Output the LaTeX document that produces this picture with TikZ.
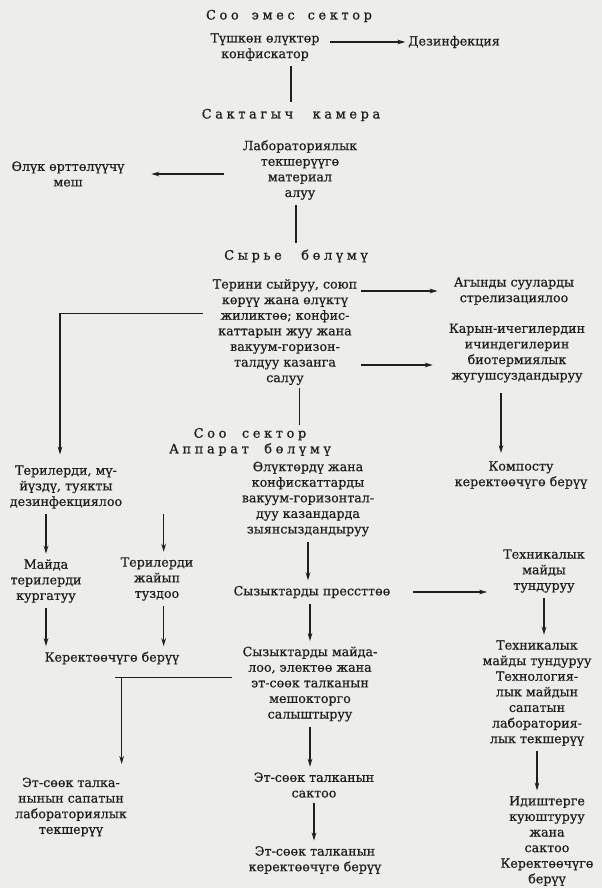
\documentclass[tikz,border=0pt]{standalone}
\usepackage{fontspec}
\setmainfont{DejaVu Serif}[FakeBold=0.6]
\newfontfamily\spacedfont{DejaVu Serif}[LetterSpace=28, FakeBold=0.8]
\usetikzlibrary{arrows.meta}
\definecolor{paper}{rgb}{0.93,0.93,0.92}
\definecolor{ink}{rgb}{0.12,0.12,0.12}

\begin{document}
\begin{tikzpicture}[x=0.75pt, y=-0.75pt, ink,
  txt/.style={align=center, inner sep=2pt, font=\fontsize{9.5}{11.7}\selectfont},
  hd/.style={align=center, inner sep=2pt, font=\spacedfont\fontsize{9.7}{11.7}\selectfont},
  arr/.style={-{Stealth[length=6pt,width=3.5pt]}, line width=1.1pt},
  ln/.style={line width=1.1pt}]
\useasboundingbox (0,0) rectangle (602,888);
\fill[paper] (0,0) rectangle (602,888);

% non-clean sector
\node[hd] (sect1) at (289,16) {Соо\hspace{1em}эмес\hspace{1em}сектор};
\node[txt] (conf) at (265,47) {Түшкөн өлүктөр\\конфискатор};
\node[txt] (dez) at (454,42) {Дезинфекция};
\node[hd] (kam) at (291,115) {Сактагыч\hspace{1.5em}камера};
\node[txt] (lab) at (300,170) {Лабораториялык\\текшерүүгө\\материал\\алуу};
\node[txt] (mesh) at (68,174) {Өлүк өрттөлүүчү\\меш};
\node[hd] (syr) at (296,256) {Сырье\hspace{1.5em}бөлүмү};
\node[txt] (skin) at (285,332) {Терини сыйруу, союп\\көрүү жана өлүктү\\жиликтөө; конфис-\\каттарын жуу жана\\вакуум-горизон-\\талдуу казанга\\салуу};
\node[txt] (agyn) at (514,291) {Агынды сууларды\\стрелизациялоо};
\node[txt] (karyn) at (517,353) {Карын-ичегилердин\\ичиндегилерин\\биотермиялык\\жугушсуздандыруу};
\node[txt] (kompost) at (521,475) {Компосту\\керектөөчүгө берүү};

% clean sector
\node[hd] (app) at (250,442) {Соо\hspace{1.2em}сектор\\Аппарат\hspace{1.2em}бөлүмү};
\node[txt] (zyan) at (308,499) {Өлүктөрдү жана\\конфискаттарды\\вакуум-горизонтал-\\дуу казандарда\\зыянсыздандыруу};
\node[txt] (teri) at (66,487) {Терилерди, мү-\\йүздү, туякты\\дезинфекциялоо};
\node[txt] (mayda) at (46,581) {Майда\\терилерди\\кургатуу};
\node[txt] (tuz) at (157,579) {Терилерди\\жайып\\туздоо};
\node[txt] (ker1) at (112,658) {Керектөөчүгө берүү};
\node[txt] (press) at (312,592) {Сызыктарды прессттөө};
\node[txt] (tehn1) at (544,571) {Техникалык\\майды\\тундуруу};
\node[txt] (syzmay) at (310,684) {Сызыктарды майда-\\лоо, электөө жана\\эт-сөөк талканын\\мешокторго\\салыштыруу};
\node[txt] (talk) at (71,807) {Эт-сөөк талка-\\нынын сапатын\\лабораториялык\\текшерүү};
\node[txt] (sakt) at (314,785) {Эт-сөөк талканын\\сактоо};
\node[txt] (ker2) at (315,860) {Эт-сөөк талканын\\керектөөчүгө берүү};
\node[txt] (tehn2) at (537,693) {Техникалык\\майды тундуруу\\Технология-\\лык майдын\\сапатын\\лаборатория-\\лык текшерүү};
\node[txt] (idish) at (547,841) {Идиштерге\\куюштуруу\\жана\\сактоо\\Керектөөчүгө\\берүү};

\coordinate (k2) at ([yshift=-9pt]karyn.west);
\coordinate (sL) at ([yshift=14pt]skin.west);
\coordinate (sM) at ([yshift=5pt]syzmay.west);
\coordinate (tL) at ([xshift=38pt]talk.north);

% connectors
\draw[arr, shorten <=6pt] (conf.east |- dez.west) -- (dez.west);
\draw[ln, shorten <=2pt, shorten >=3pt] (kam.north |- conf.south) -- (kam.north);
\draw[arr, shorten <=12pt, shorten >=18pt] (lab.west |- mesh.east) -- (mesh.east);
\draw[ln, shorten <=2pt, shorten >=3pt] (syr.north |- lab.south) -- (syr.north);
\draw[arr, shorten <=1pt, shorten >=10pt] (skin.east |- agyn.west) -- (agyn.west);
\draw[arr, shorten <=1pt, shorten >=10pt] (skin.east |- k2) -- (k2);
\draw[ln, shorten <=5pt] (sL) -- (sL -| teri.north) -- ++(-4.5pt,0);
\draw[arr, shorten >=6pt] ([xshift=-4.5pt]sL -| teri.north) -- ([xshift=-4.5pt]teri.north);
\draw[ln] ([xshift=11pt]skin.south) -- ([xshift=11pt]skin.south |- app.north);
\draw[arr, shorten <=6pt, shorten >=4pt] ([xshift=-12pt]karyn.south) -- ([xshift=-12pt]karyn.south |- kompost.north);
\draw[arr, shorten <=2pt, shorten >=2pt] (teri.south -| mayda.north) -- (mayda.north);
\draw[arr, shorten <=2pt, shorten >=2pt] ([xshift=5pt]tuz.north |- teri.south) -- ([xshift=5pt]tuz.north);
\draw[arr, shorten <=2pt, shorten >=2pt] (mayda.south) -- (mayda.south |- ker1.north);
\draw[arr, shorten <=2pt, shorten >=2pt] ([xshift=5pt]tuz.south) -- ([xshift=5pt]tuz.south |- ker1.north);
\draw[arr, shorten <=2pt, shorten >=2pt] (zyan.south) -- (zyan.south |- press.north);
\draw[arr, shorten <=15pt, shorten >=10pt] (press.east) -- (press.east -| tehn1.west);
\draw[arr, shorten <=2pt, shorten >=2pt] (tehn1.south) -- (tehn1.south |- tehn2.north);
\draw[arr, shorten <=2pt, shorten >=2pt] (syzmay.north |- press.south) -- (syzmay.north);
\draw[ln, shorten <=6pt] (sM) -- ([xshift=-5pt]sM -| tL);
\draw[arr, shorten >=8pt] (sM -| tL) -- (tL);
\draw[arr, shorten <=2pt, shorten >=2pt] (syzmay.south) -- (syzmay.south |- sakt.north);
\draw[arr, shorten <=2pt, shorten >=2pt] (sakt.south) -- (sakt.south |- ker2.north);
\draw[arr, shorten <=2pt, shorten >=2pt] (tehn2.south) -- (tehn2.south |- idish.north);
\end{tikzpicture}
\end{document}
